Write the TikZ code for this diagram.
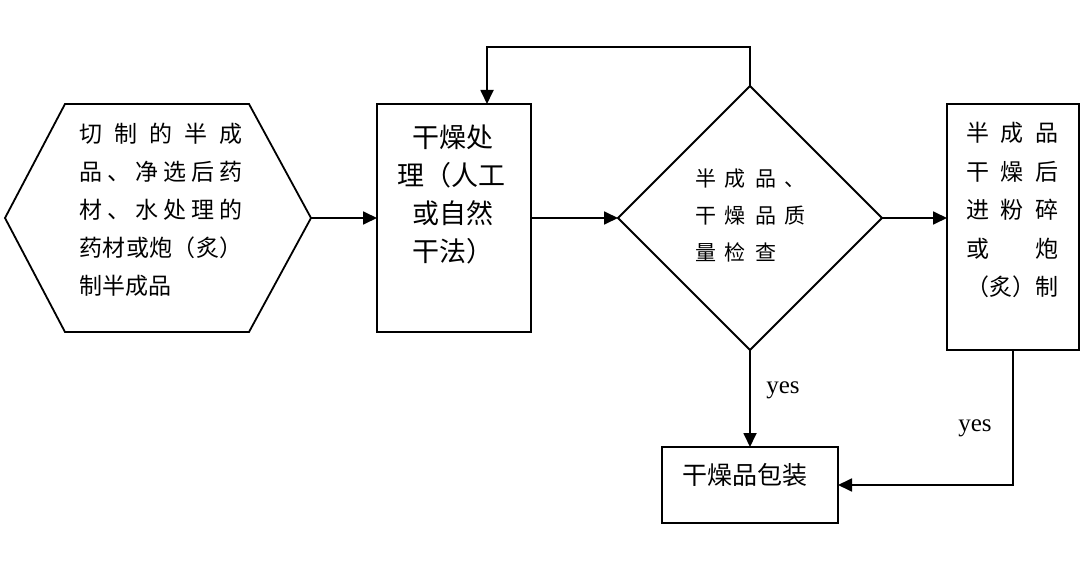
\documentclass[tikz,border=0pt]{standalone}
\usepackage{fontspec}
\setmainfont{Liberation Serif}
\newfontfamily\cjk{Noto Sans CJK SC}
\usetikzlibrary{shapes.geometric,arrows.meta}
\newcommand\gp{\hspace{9pt}}
\begin{document}
\begin{tikzpicture}[x=1pt,y=-1pt,
  line width=1.8pt,
  every node/.style={inner sep=0pt, outer sep=0pt},
  procbox/.style={draw, rectangle},
  flow/.style={-{Triangle[length=14pt,width=13pt]}},
  cjktext/.style={font=\cjk\fontsize{#1}{38}\selectfont, align=left},
  yeslabel/.style={font=\rmfamily\fontsize{25}{28}\selectfont}
]
\path[use as bounding box] (0,0) rectangle (1080,564);

% shapes
\coordinate (hexR) at (311,218);
\draw (65,104) -- (249,104) -- (hexR) -- (249,332) -- (65,332) -- (5,218) -- cycle;
\node[procbox, minimum width=154pt, minimum height=228pt] (dry) at (454,218) {};
\node[diamond, draw, minimum width=264pt, minimum height=264pt] (chk) at (750,218) {};
\node[procbox, minimum width=132pt, minimum height=246pt] (mill) at (1013,227) {};
\node[procbox, minimum width=176pt, minimum height=76pt] (pack) at (750,485) {};

% texts
\node[cjktext=23] (hexT) at (161,210) {%
\makebox[163pt][s]{切\hfill 制\hfill 的\hfill 半\hfill 成}\\
\makebox[163pt][s]{品\hfill 、\hfill 净\hfill 选\hfill 后\hfill 药}\\
\makebox[163pt][s]{材\hfill 、\hfill 水\hfill 处\hfill 理\hfill 的}\\
\makebox[163pt][s]{药\hfill 材\hfill 或\hfill 炮\hfill （\hfill 炙\hfill ）}\\
制半成品};
\node[cjktext=27] (dryT) at (451,194) {%
\hspace*{15pt}干燥处\\
理（人工\\
\hspace*{15pt}或自然\\
\hspace*{15pt}干法）};
\node[font=\cjk\fontsize{21}{37}\selectfont, align=left] (chkT) at (750.5,215) {%
半\gp 成\gp 品\gp 、\\
干\gp 燥\gp 品\gp 质\\
量\gp 检\gp 查};
\node[font=\cjk\fontsize{23}{38.5}\selectfont, align=left] (millT) at (1012.5,210) {%
\makebox[93pt][s]{半\hfill 成\hfill 品}\\
\makebox[93pt][s]{干\hfill 燥\hfill 后}\\
\makebox[93pt][s]{进\hfill 粉\hfill 碎}\\
\makebox[93pt][s]{或\hfill 炮}\\
\makebox[93pt][s]{（\hfill 炙\hfill ）\hfill 制}};
\node[font=\cjk\fontsize{25}{30}\selectfont] (packT) at (745,475) {干燥品包装};
\node[yeslabel] (yes1) at (783,390) {yes};
\node[yeslabel] (yes2) at (975,428) {yes};

% connectors
\draw[flow] (hexR) -- (dry.west);
\draw[flow] (dry.east) -- (chk.west);
\draw[flow] (chk.east) -- (chk.east -| mill.west);
\draw[flow] (chk.north) -- ++(0,-39) -| ([xshift=33pt]dry.north);
\draw[flow] (chk.south) -- (pack.north);
\draw[flow] (mill.south) |- (pack.east);
\end{tikzpicture}
\end{document}
